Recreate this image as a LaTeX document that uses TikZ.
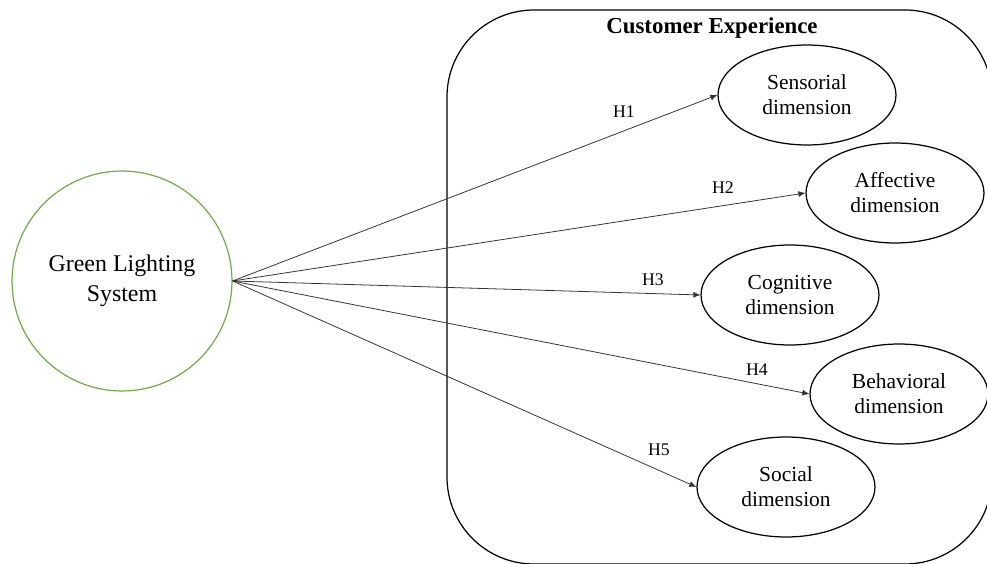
\documentclass[tikz,border=0pt]{standalone}
\usepackage{fontspec}
\setmainfont{Liberation Serif}
\usetikzlibrary{shapes.geometric,arrows.meta}
\definecolor{lightgreen}{HTML}{70AD47}

\begin{document}
\begin{tikzpicture}[x=0.02cm,y=-0.02cm,
    dim/.style={ellipse,draw,line width=0.7pt,minimum width=3.56cm,minimum height=2cm,
      inner sep=0pt,align=center,font=\fontsize{12.2}{14.2}\selectfont},
    hyp/.style={inner sep=1pt,font=\fontsize{10.1}{12}\selectfont},
    link/.style={draw=black!80,line width=0.45pt,-{Latex[length=4pt,width=3.4pt]}}]
      \useasboundingbox (0,0) rectangle (987,564);

      % customer experience frame
      \draw[line width=0.7pt,rounded corners=1.74cm] (447,10) rectangle (992,564);
      \node[font=\fontsize{13}{15}\selectfont\bfseries] (CE) at (712,28) {Customer Experience};

      \node[circle,draw=lightgreen,line width=0.7pt,minimum size=4.4cm,align=center,
            font=\fontsize{13.6}{17}\selectfont] (GLS) at (122,281) {Green Lighting\\System};

      \node[dim] (sens) at (807,95) {Sensorial\\dimension};
      \node[dim] (aff) at (895,193) {Affective\\dimension};
      \node[dim] (cog) at (790,295) {Cognitive\\dimension};
      \node[dim] (beh) at (899,394) {Behavioral\\dimension};
      \node[dim] (soc) at (786,487) {Social\\dimension};

      \node[hyp] (H1) at (624,112) {H1};
      \node[hyp] (H2) at (723,188) {H2};
      \node[hyp] (H3) at (653,280) {H3};
      \node[hyp] (H4) at (757,370) {H4};
      \node[hyp] (H5) at (659,450) {H5};

      \draw[link] (GLS.east) -- (sens.west);
      \draw[link] (GLS.east) -- (aff.west);
      \draw[link] (GLS.east) -- (cog.west);
      \draw[link] (GLS.east) -- (beh.west);
      \draw[link] (GLS.east) -- (soc.west);
    \end{tikzpicture}
\end{document}
